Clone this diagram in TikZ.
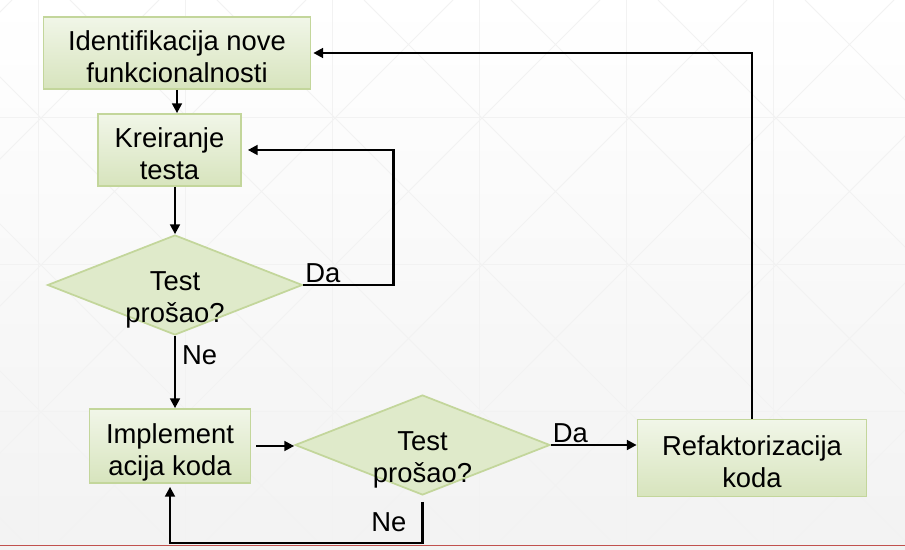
\documentclass[tikz,border=0pt]{standalone}
\usepackage{fontspec}
\setmainfont{Liberation Sans}
\usetikzlibrary{shapes.geometric,arrows.meta}
\definecolor{boxtop}{HTML}{F1F6E8}
\definecolor{boxbot}{HTML}{D7E4BD}
\definecolor{boxline}{HTML}{C3D69B}
\definecolor{decfill}{HTML}{DFEACA}
\definecolor{slidered}{HTML}{C0504D}
\begin{document}
\begin{tikzpicture}[x=0.02cm,y=-0.02cm,
  font=\fontsize{15.6}{18.5}\selectfont,
  box/.style={draw=boxline,line width=1pt,shape=rectangle,top color=boxtop,bottom color=boxbot,align=center,inner sep=0pt,text height=37pt,text depth=3pt},
  dec/.style={draw=boxline,line width=1pt,shape=diamond,fill=decfill,inner sep=0pt,minimum width=5.1cm,minimum height=2cm},
  >={Triangle[length=5.5pt,width=5.5pt]}]
  \useasboundingbox (0,0) rectangle (905,550);
  % slide background
  \shade[top color=white,bottom color=black!5] (0,0) rectangle (905,550);
  \begin{scope}[black!5,line width=0.5pt]
    \clip (0,0) rectangle (905,545);
    \foreach \gx in {38,185,...,900} \draw (\gx,0) -- (\gx,550);
    \foreach \gy in {-30,117,264,411} \draw (0,\gy) -- (905,\gy);
    \foreach \c in {-518,-371,...,905} \draw (\c,0) -- ++(550,550);
    \foreach \c in {12,159,...,1460} \draw (\c,0) -- ++(-550,550);
  \end{scope}
  \draw[slidered,line width=1.1pt] (0,545.5) -- (905,545.5);

  \node[box,minimum width=5.34cm,minimum height=1.44cm] (idn) at (177,53) {Identifikacija nove\\funkcionalnosti};
  \node[box,minimum width=2.86cm,minimum height=1.44cm] (krt) at (169.5,150) {Kreiranje\\testa};
  \node[dec,label={[yshift=-0.3cm,align=center]center:{Test\\prošao?}}] (ts1) at (175,285) {};
  \node[box,minimum width=3.22cm,minimum height=1.48cm] (imp) at (170,446) {Implement\\acija koda};
  \node[dec,label={[yshift=-0.3cm,align=center]center:{Test\\prošao?}}] (ts2) at (422.5,445) {};
  \node[box,minimum width=4.58cm,minimum height=1.54cm] (ref) at (752,458) {Refaktorizacija\\koda};

  \draw[->,line width=1.3pt] (idn.south) -- (idn.south |- krt.north);
  \draw[->,line width=1.3pt] (ts1.north |- krt.south) -- (ts1.north);
  \draw[->,line width=1.3pt,shorten >=0.12cm] (ts1.east) node[anchor=south west,inner sep=0.5pt]{Da} -- ++(90,0) |- (krt.east);
  \draw[->,line width=1.3pt] (ts1.south) -- node[right,pos=0.27]{Ne} (ts1.south |- imp.north);
  \draw[->,line width=1.3pt] ([xshift=0.1cm]imp.east) -- (imp.east -| ts2.west);
  \draw[->,line width=1.3pt] (ts2.east) node[anchor=south west,inner sep=0.5pt]{Da} -- (ts2.east -| ref.west);
  \draw[->,line width=1.3pt,shorten >=0.06cm] ([yshift=-0.12cm]ts2.south) -- node[left,inner sep=0.3cm]{Ne} ++(0,41) -| (imp.south);
  \draw[->,line width=1.3pt,shorten >=0.04cm] (ref.north) |- (idn.east);
\end{tikzpicture}
\end{document}
